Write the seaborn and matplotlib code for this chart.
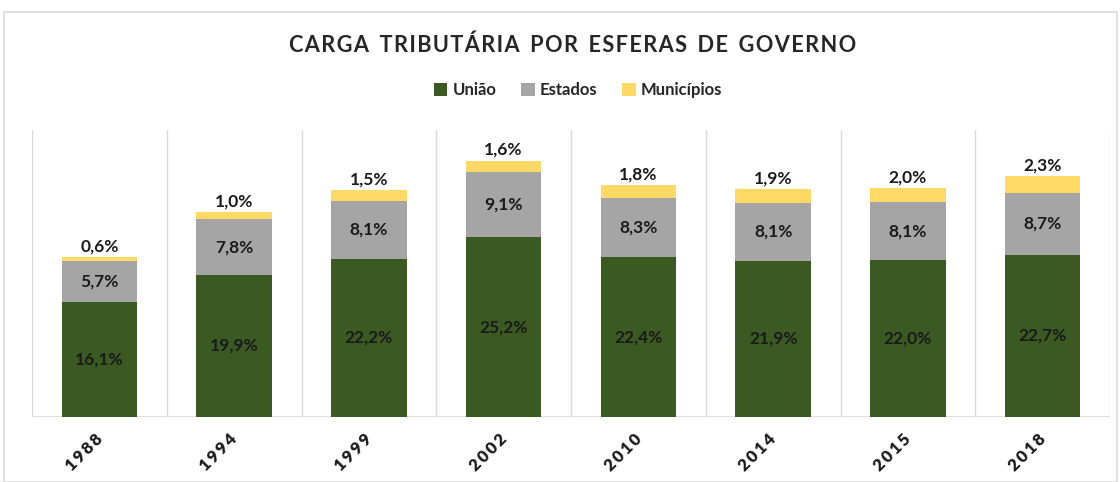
import matplotlib
matplotlib.use("Agg")
import matplotlib.pyplot as plt
import matplotlib.transforms as mtransforms
import seaborn as sns
import pandas as pd
import numpy as np
from matplotlib.patches import Rectangle, Patch

years = ["1988", "1994", "1999", "2002", "2010", "2014", "2015", "2018"]
uniao = [16.1, 19.9, 22.2, 25.2, 22.4, 21.9, 22.0, 22.7]
estados = [5.7, 7.8, 8.1, 9.1, 8.3, 8.1, 8.1, 8.7]
municipios = [0.6, 1.0, 1.5, 1.6, 1.8, 1.9, 2.0, 2.3]
series_names = ["União", "Estados", "Municípios"]
colors = ["#3B5A22", "#A5A5A5", "#FFD965"]
title = "CARGA TRIBUTÁRIA POR ESFERAS DE GOVERNO"

sns.set_theme(style="white")
plt.rcParams["font.family"] = ["Lato", "DejaVu Sans"]

df = pd.DataFrame({"ano": years, "União": uniao, "Estados": estados, "Municípios": municipios})

fig = plt.figure(figsize=(11.2, 4.82), dpi=100)
fig.patch.set_facecolor("white")
fig.patches.append(Rectangle((4 / 1120, 0.0), 1113 / 1120, 1 - 12 / 482, transform=fig.transFigure,
                             fill=False, edgecolor="#d9d9d9", linewidth=1.2))
ax = fig.add_axes([32 / 1120, 65 / 482, 1078 / 1120, 287 / 482])

bottom = np.zeros(len(years))
for name, col in zip(series_names, colors):
    vals = np.array(df[name])
    sns.barplot(data=df, x="ano", y=name, color=col, ax=ax, width=0.56,
                bottom=bottom, saturation=1, linewidth=0)
    bottom = bottom + vals

# labels
cum = np.zeros(len(years))
for si, name in enumerate(series_names):
    vals = np.array(df[name])
    for i, v in enumerate(vals):
        txt = f"{v:.1f}%".replace(".", ",")
        if si < 2:
            ax.text(i, cum[i] + v / 2, txt, ha="center", va="center",
                    fontsize=12.5, fontweight="bold", color="#1a1a1a")
        else:
            ax.annotate(txt, (i, cum[i] + v), xytext=(0, 2), textcoords="offset points",
                        ha="center", va="bottom", fontsize=12.5, fontweight="bold", color="#1a1a1a")
    cum = cum + vals

ax.set_ylim(0, 40.2)
ax.set_xlim(-0.5, len(years) - 0.5)
for b in np.arange(-0.5, len(years), 1.0):
    ax.axvline(b, color="#d9d9d9", linewidth=1, zorder=0)
ax.axhline(0, color="#d9d9d9", linewidth=1.2, zorder=0)
for s in ax.spines.values():
    s.set_visible(False)
ax.set_yticks([])
ax.set_xlabel("")
ax.set_ylabel("")
ax.set_xticks(range(len(years)))
ax.set_xticklabels(["\u2009".join(y) for y in years], rotation=45, ha="right", rotation_mode="anchor",
                   fontsize=12, fontweight="heavy", color="#1a1a1a")
ax.tick_params(axis="x", length=0, pad=10)
shift = mtransforms.ScaledTranslation(-5 / 100, 0, fig.dpi_scale_trans)
for lab in ax.get_xticklabels():
    lab.set_transform(lab.get_transform() + shift)

fig.text(573 / 1120, 1 - 45 / 482, "\u200a".join(title).replace("\u200a \u200a", "  "),
         ha="center", va="center", fontsize=15.7, fontweight="bold", color="#262626")

handles = [Patch(facecolor=c, edgecolor="none") for c in colors]
fig.legend(handles, series_names, loc="center", bbox_to_anchor=(578 / 1120, 1 - 90 / 482), ncol=3,
           frameon=False, handlelength=0.8, handleheight=0.8, handletextpad=0.3,
           columnspacing=1.5, prop={"weight": "bold", "size": 12})

fig.savefig("out.png", dpi=100, facecolor="white")
